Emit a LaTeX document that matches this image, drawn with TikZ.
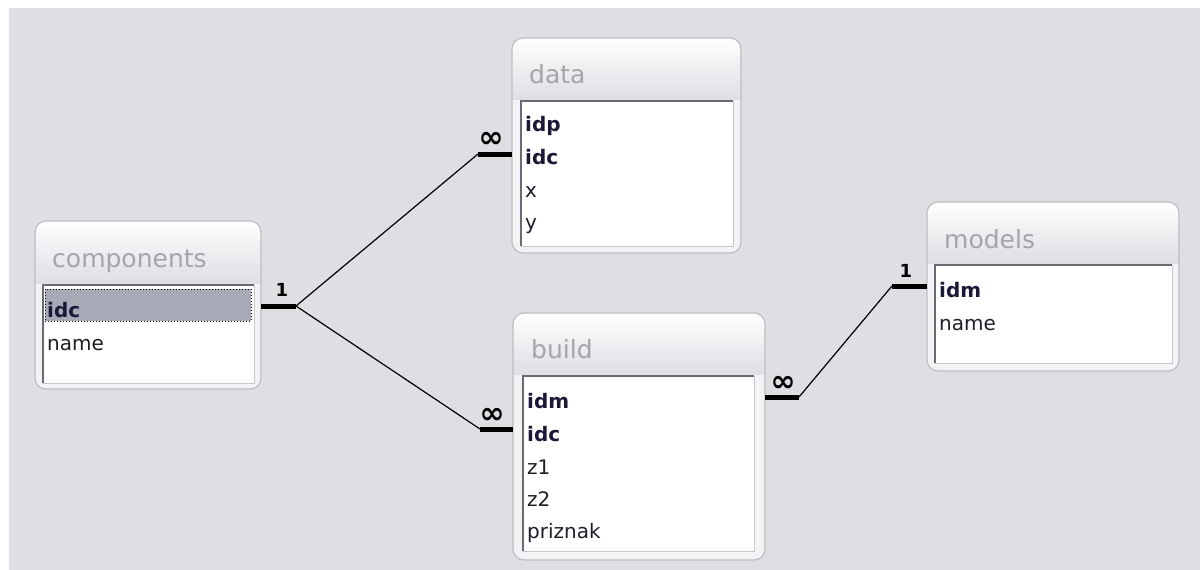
\documentclass[tikz,border=0pt]{standalone}
\usepackage{fontspec}
\usepackage{graphicx}
\usetikzlibrary{fit}
\newfontfamily\dv{DejaVu Sans}
\definecolor{bgcol}{HTML}{DFDEE3}
\definecolor{framefill}{HTML}{F3F3F5}
\definecolor{frameline}{HTML}{BDBDC3}
\definecolor{titlebot}{HTML}{DEDEE4}
\definecolor{listline}{HTML}{C6C6CC}
\definecolor{sunkline}{HTML}{6A6A72}
\definecolor{hlcol}{HTML}{A8A9B6}
\definecolor{rowtext}{HTML}{1E1E28}
\definecolor{keytext}{HTML}{1A1A38}
\definecolor{titlegray}{HTML}{A5A5A9}
\tikzset{
  frame/.style={inner sep=0, outer sep=0, fill=framefill, rounded corners=11},
  framedraw/.style={draw=frameline, line width=1.2},
  listbox/.style={inner sep=0, outer sep=0, fill=white, draw=listline, line width=1},
  sunken/.style={draw=sunkline, line width=1.4},
  ttl/.style={anchor=base west, inner sep=0, text=titlegray, font=\dv\fontsize{25}{30}\selectfont},
  row/.style={anchor=base west, inner sep=0, text=rowtext, font=\dv\fontsize{20}{24}\selectfont},
  keyrow/.style={row, text=keytext, font=\dv\bfseries\fontsize{20}{24}\selectfont},
  hl/.style={inner sep=0, fill=hlcol, draw=black, dotted, line width=1},
  bar/.style={line width=5, black},
  link/.style={line width=1.2, black},
  card/.style={inner sep=0, text=black, font=\dv\bfseries\fontsize{18}{22}\selectfont},
  cardinf/.style={inner sep=0, text=black, font=\dv\bfseries\fontsize{30}{34}\selectfont},
}
\newcommand\erdtable[9]{%
  \node[frame, fit={(#2,#3) (#4,#5)}] (#1) {};
  \begin{scope}
    \clip[rounded corners=11] (#2,#3) rectangle (#4,#5);
    \fill[top color=white, bottom color=titlebot] (#2,#3) rectangle (#4,#7-2);
  \end{scope}
  \draw[framedraw, rounded corners=11] (#2,#3) rectangle (#4,#5);
  \node[listbox, fit={(#6,#7) (#8,#9)}] (#1-list) {};
  \draw[sunken] (#6,#9) -- (#6,#7) -- (#8,#7);
}
\begin{document}
\begin{tikzpicture}[x=1pt, y=-1pt]
\useasboundingbox (0,0) rectangle (1200,570);
\fill[white] (0,0) rectangle (1200,570);
\fill[bgcol] (9,8) rectangle (1200,570);

% components
\erdtable{components}{35}{221}{261}{389}{43}{285}{254}{383}
\node[ttl] (components-title) at (52,267) {components};
\node[hl, fit={(45,289) (251,321)}] (components-hl) {};
\node[keyrow] (components-idc) at (47,317) {idc};
\node[row] (components-name) at (47,350) {name};

% data
\erdtable{data}{512}{38}{741}{253}{521}{101}{733}{246}
\node[ttl] (data-title) at (529,83) {data};
\node[keyrow] (data-idp) at (525,131) {idp};
\node[keyrow] (data-idc) at (525,164) {idc};
\node[row] (data-x) at (525,197) {x};
\node[row] (data-y) at (525,229) {y};

% build
\erdtable{build}{513}{313}{765}{560}{523}{376}{754}{551}
\node[ttl] (build-title) at (531,358) {build};
\node[keyrow] (build-idm) at (527,408) {idm};
\node[keyrow] (build-idc) at (527,441) {idc};
\node[row] (build-z1) at (527,474) {z1};
\node[row] (build-z2) at (527,506) {z2};
\node[row] (build-priznak) at (527,538) {priznak};

% models
\erdtable{models}{927}{202}{1179}{371}{935}{265}{1172}{363}
\node[ttl] (models-title) at (944,248) {models};
\node[keyrow] (models-idm) at (939,297) {idm};
\node[row] (models-name) at (939,330) {name};

% connector end points
\coordinate (cR) at (components.east |- 0,306);
\coordinate (cRe) at (296,306);
\coordinate (dL) at (data.west |- 0,154);
\coordinate (dLe) at (478,154);
\coordinate (bL) at (build.west |- 0,429);
\coordinate (bLe) at (480,429);
\coordinate (bR) at (build.east |- 0,397);
\coordinate (bRe) at (799,397);
\coordinate (mL) at (models.west |- 0,286);
\coordinate (mLe) at (892,286);

\draw[bar] (cR) -- (cRe);
\draw[bar] (dLe) -- (dL);
\draw[bar] (bLe) -- (bL);
\draw[bar] (bR) -- (bRe);
\draw[bar] (mLe) -- (mL);
\draw[link] (cRe) -- (dLe);
\draw[link] (cRe) -- (bLe);
\draw[link] (bRe) -- (mLe);

\node[card] (one-c) at (282,290) {1};
\node[cardinf] (inf-d) at (491,140) {∞};
\node[cardinf] (inf-b) at (492,416) {∞};
\node[cardinf] (inf-bm) at (783,384) {∞};
\node[card] (one-m) at (906,271) {1};
\end{tikzpicture}
\end{document}
